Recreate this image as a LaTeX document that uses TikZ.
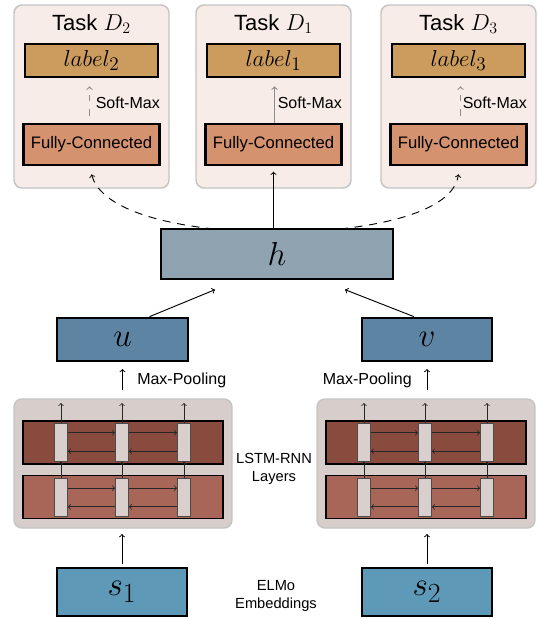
\documentclass[tikz,border=0pt]{standalone}
\usepackage{fontspec}
\setmainfont{Liberation Sans}
\usetikzlibrary{positioning}

\definecolor{taskbg}{HTML}{F7ECE7}
\definecolor{framegray}{HTML}{C4C4C4}
\definecolor{labelfill}{HTML}{CC9C5E}
\definecolor{fcfill}{HTML}{D4926F}
\definecolor{hfill}{HTML}{8FA3B1}
\definecolor{uvfill}{HTML}{5D84A3}
\definecolor{sfill}{HTML}{5E99B8}
\definecolor{lstmbg}{HTML}{D7CECC}
\definecolor{layertop}{HTML}{8A4B3F}
\definecolor{layerbot}{HTML}{A86658}
\definecolor{cellfill}{HTML}{D9D0CD}
\definecolor{softgray}{HTML}{8C8C8C}

\tikzset{
  taskbox/.style={draw=framegray, line width=1.1pt, fill=taskbg, rounded corners=6pt,
    minimum width=155*0.75pt, minimum height=183*0.75pt, inner sep=0pt},
  lstmbox/.style={draw=framegray, line width=1.1pt, fill=lstmbg, rounded corners=6pt,
    minimum width=218*0.75pt, minimum height=129*0.75pt, inner sep=0pt},
  thickbox/.style={draw=black, line width=2pt, inner sep=0pt},
  labelbox/.style={thickbox, fill=labelfill, minimum width=133*0.75pt, minimum height=33*0.75pt,
    font=\fontsize{19}{19}\selectfont},
  fcbox/.style={thickbox, fill=fcfill, minimum width=136*0.75pt, minimum height=41*0.75pt,
    font=\fontsize{12.5}{14}\selectfont},
  layerbox/.style={draw=black, line width=1.2pt, minimum width=200*0.75pt, minimum height=43*0.75pt, inner sep=0pt},
  cellbox/.style={draw=black!70, line width=0.6pt, fill=cellfill, minimum width=13*0.75pt,
    minimum height=38*0.75pt, inner sep=0pt},
  txt/.style={font=\fontsize{12}{14}\selectfont, inner sep=0pt},
  small/.style={font=\fontsize{11}{13}\selectfont, align=center, inner sep=0pt},
  link/.style={->, line width=0.7pt},
  thin link/.style={->, line width=0.6pt, draw=black!85},
}

\begin{document}
\begin{tikzpicture}[x=0.75pt, y=-0.75pt]
\useasboundingbox (0,0) rectangle (538,619);

% task heads
\foreach \nm/\cx/\d in {2/91.5/2, 1/273.5/1, 3/458.5/3} {
  \node[taskbox] (task\nm) at (\cx,96.5) {};
  \node[font=\fontsize{16.5}{18}\selectfont, inner sep=0pt] (title\nm) at (\cx,24) {Task $D_{\d}$};
  \node[labelbox] (lab\nm) at (\cx,60.5) {$label_{\d}$};
  \node[fcbox] (fc\nm) at (\cx,144.5) {Fully-Connected};
  \node[txt, anchor=west] (sm\nm) at (\cx+4,103) {Soft-Max};
}
\draw[->, softgray, line width=0.8pt, dashed, dash pattern=on 5pt off 6pt] ([xshift=-2*0.75pt, yshift=5pt]fc2.north) -- ([xshift=-2*0.75pt, yshift=-6pt]lab2.south);
\draw[->, softgray, line width=0.8pt] ([xshift=1*0.75pt]fc1.north) -- ([xshift=1*0.75pt, yshift=-6pt]lab1.south);
\draw[->, softgray, line width=0.8pt, dashed, dash pattern=on 5pt off 6pt] ([xshift=2*0.75pt, yshift=5pt]fc3.north) -- ([xshift=2*0.75pt, yshift=-6pt]lab3.south);

% shared representation
\node[thickbox, fill=hfill, minimum width=232*0.75pt, minimum height=50*0.75pt,
  font=\fontsize{30}{30}\selectfont] (h) at (277,254) {$h$};
\coordinate (hl) at (214,229);
\coordinate (hr) at (340,229);
\draw[link] (h.north -| fc1.south) -- ([yshift=-4pt]fc1.south);
\draw[link, dashed, dash pattern=on 6pt off 5pt] (hl) .. controls (150,222) and (100,205) .. ([yshift=-6pt]fc2.south);
\draw[link, dashed, dash pattern=on 6pt off 5pt] (hr) .. controls (404,222) and (454,205) .. ([yshift=-6pt]fc3.south);

% sentence vectors
\node[thickbox, fill=uvfill, minimum width=131*0.75pt, minimum height=43*0.75pt,
  font=\fontsize{32}{32}\selectfont] (u) at (122.5,339.5) {$u$};
\node[thickbox, fill=uvfill, minimum width=130*0.75pt, minimum height=43*0.75pt,
  font=\fontsize{32}{32}\selectfont] (v) at (427,339.5) {$v$};
\draw[link] ([xshift=27*0.75pt]u.north) -- ([xshift=-62*0.75pt, yshift=-7pt]h.south);
\draw[link] ([xshift=-13*0.75pt]v.north) -- ([xshift=68*0.75pt, yshift=-7pt]h.south);

% lstm blocks
\foreach \sd/\cx in {l/123, r/426} {
  \node[lstmbox] (lstm\sd) at (\cx,463.5) {};
  \node[layerbox, fill=layertop] (top\sd) at (\cx,442.5) {};
  \node[layerbox, fill=layerbot] (bot\sd) at (\cx,497) {};
  \foreach \i/\dx in {1/-62, 2/-1, 3/61} {
    \node[cellbox] (ct\sd\i) at (\cx+\dx,442) {};
    \node[cellbox] (cb\sd\i) at (\cx+\dx,497.5) {};
    \draw[thin link] (cb\sd\i.north) -- (ct\sd\i.south);
    \coordinate (out\sd\i) at (\cx+\dx,403);
    \draw[thin link] (ct\sd\i.north) -- (out\sd\i);
  }
  \foreach \a/\b in {1/2, 2/3} {
    \draw[thin link] ([yshift=7pt]ct\sd\a.east) -- ([yshift=7pt]ct\sd\b.west);
    \draw[thin link] ([yshift=-7pt]ct\sd\b.west) -- ([yshift=-7pt]ct\sd\a.east);
    \draw[thin link] ([yshift=7pt]cb\sd\a.east) -- ([yshift=7pt]cb\sd\b.west);
    \draw[thin link] ([yshift=-7pt]cb\sd\b.west) -- ([yshift=-7pt]cb\sd\a.east);
  }
}
\node[small] (lstmtxt) at (274,469) {LSTM-RNN\\Layers};

% max pooling
\draw[link] ([yshift=6pt]lstml.north -| u.south) -- ([yshift=-5pt]u.south);
\draw[link] ([yshift=6pt]lstmr.north -| v.south) -- ([yshift=-5pt]v.south);
\node[txt, anchor=west] (mpl) at (137,380) {Max-Pooling};
\node[txt, anchor=east] (mpr) at (412,380) {Max-Pooling};

% embeddings
\node[thickbox, fill=sfill, minimum width=130*0.75pt, minimum height=48*0.75pt,
  font=\fontsize{32}{32}\selectfont] (s1) at (122,592) {$s_1$};
\node[thickbox, fill=sfill, minimum width=130*0.75pt, minimum height=48*0.75pt,
  font=\fontsize{32}{32}\selectfont] (s2) at (427,592) {$s_2$};
\draw[link] ([yshift=2pt]s1.north) -- ([yshift=-4pt]s1.north |- lstml.south);
\draw[link] ([yshift=2pt]s2.north) -- ([yshift=-4pt]s2.north |- lstmr.south);
\node[small] (elmo) at (276,596) {ELMo\\Embeddings};
\end{tikzpicture}
\end{document}
